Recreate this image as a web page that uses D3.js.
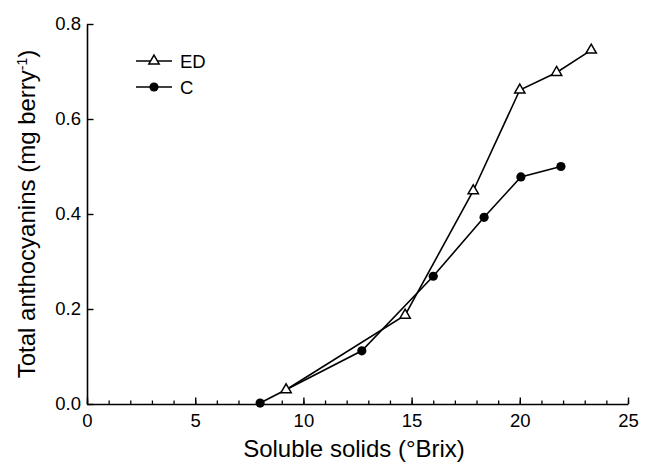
<!DOCTYPE html>
<html>
<head>
<meta charset="utf-8">
<script src="https://cdn.jsdelivr.net/npm/d3@7"></script>
<style>
  body { margin: 0; background: #fff; }
  text { font-family: "Liberation Sans", Arial, sans-serif; fill: #000; }
</style>
</head>
<body>
<div id="chart"></div>
<script>
/* Anthocyanins vs soluble solids */

// ED series (open triangles)
const edBrix = [9.2, 14.7, 17.85, 20.0, 21.7, 23.3];
const edAntho = [0.03, 0.187, 0.449, 0.661, 0.698, 0.745];

// C series (filled circles)
const cBrix = [8.0, 12.7, 16.0, 18.35, 20.05, 21.9];
const cAntho = [0.002, 0.112, 0.269, 0.393, 0.478, 0.500];

const xTicks = [0, 5, 10, 15, 20, 25];
const yTicks = [0, 0.2, 0.4, 0.6, 0.8];

const width = 649,
      height = 463,
      margin = ({ top: 24, right: 21, bottom: 59, left: 87 });

let svg = d3.select("#chart")
    .append("svg")
    .attr("width", width)
    .attr("height", height);

let x = d3.scaleLinear()
    .domain([0, 25])
    .range([margin.left, width - margin.right]);

let y = d3.scaleLinear()
    .domain([0, 0.8])
    .range([height - margin.bottom, margin.top]);

// minor x ticks, every 1 unit, pointing inward
svg.append("g")
    .attr("transform", `translate(0,${height - margin.bottom})`)
    .call(d3.axisBottom(x).tickValues(d3.range(0, 26, 1)).tickSize(-3.5).tickFormat(""))
    .call(g => g.select(".domain").remove())
    .call(g => g.selectAll("line").attr("stroke-width", 1.3));

// major x ticks
svg.append("g")
    .attr("transform", `translate(0,${height - margin.bottom})`)
    .call(d3.axisBottom(x).tickValues(xTicks).tickSize(-6.5).tickSizeOuter(0).tickPadding(10))
    .call(g => g.select(".domain").attr("stroke-width", 1.6))
    .call(g => g.selectAll("line").attr("stroke-width", 1.4))
    .call(g => g.selectAll("text").style("font-size", "18.5px")
        .style("font-family", "'Liberation Sans', Arial, sans-serif"));

svg.append("g")
    .attr("transform", `translate(${margin.left},0)`)
    .call(d3.axisLeft(y).tickValues(yTicks).tickSize(-6.5).tickSizeOuter(0).tickPadding(6)
        .tickFormat(d3.format(".1f")))
    .call(g => g.select(".domain").attr("stroke-width", 1.6))
    .call(g => g.selectAll("line").attr("stroke-width", 1.4))
    .call(g => g.selectAll("text").style("font-size", "18.5px")
        .style("font-family", "'Liberation Sans', Arial, sans-serif"));

// axis titles
svg.append("text")
    .attr("x", 354)
    .attr("y", 456.5)
    .attr("text-anchor", "middle")
    .style("font-size", "24px")
    .text("Soluble solids (°Brix)");

let yTitle = svg.append("text")
    .attr("transform", `translate(35,${(y(0) + y(0.8)) / 2}) rotate(-90)`)
    .attr("text-anchor", "middle")
    .style("font-size", "24px");
yTitle.append("tspan").text("Total anthocyanins (mg berry");
yTitle.append("tspan").attr("dy", -8).style("font-size", "14px").text("-1");
yTitle.append("tspan").attr("dy", 8).text(")");

const line = d3.line().x(d => x(d[0])).y(d => y(d[1]));
const ed = d3.zip(edBrix, edAntho);
const c = d3.zip(cBrix, cAntho);

const tri = d3.symbol().type(d3.symbolTriangle).size(46);

svg.append("path")
    .datum(ed)
    .attr("fill", "none")
    .attr("stroke", "#000")
    .attr("stroke-width", 1.6)
    .attr("d", line);

svg.append("path")
    .datum(c)
    .attr("fill", "none")
    .attr("stroke", "#000")
    .attr("stroke-width", 1.6)
    .attr("d", line);

svg.selectAll(".ed")
    .data(ed)
    .join("path")
    .attr("class", "ed")
    .attr("transform", d => `translate(${x(d[0])},${y(d[1])})`)
    .attr("d", tri)
    .attr("fill", "#fff")
    .attr("stroke", "#000")
    .attr("stroke-width", 1.5);

svg.selectAll(".c")
    .data(c)
    .join("circle")
    .attr("class", "c")
    .attr("cx", d => x(d[0]))
    .attr("cy", d => y(d[1]))
    .attr("r", 4.6)
    .attr("fill", "#000");

// legend
const legend = [{ name: "ED", y: 61 }, { name: "C", y: 87 }];
let lg = svg.selectAll(".legend")
    .data(legend)
    .join("g")
    .attr("class", "legend")
    .attr("transform", d => `translate(136,${d.y})`);

lg.append("line")
    .attr("x1", 0).attr("x2", 36)
    .attr("stroke", "#000")
    .attr("stroke-width", 1.6);

lg.filter(d => d.name === "ED").append("path")
    .attr("transform", "translate(18,0)")
    .attr("d", tri)
    .attr("fill", "#fff")
    .attr("stroke", "#000")
    .attr("stroke-width", 1.5);

lg.filter(d => d.name === "C").append("circle")
    .attr("cx", 18)
    .attr("r", 4.6)
    .attr("fill", "#000");

lg.append("text")
    .attr("x", 44)
    .attr("dy", "0.36em")
    .style("font-size", "18.5px")
    .text(d => d.name);
</script>
</body>
</html>
